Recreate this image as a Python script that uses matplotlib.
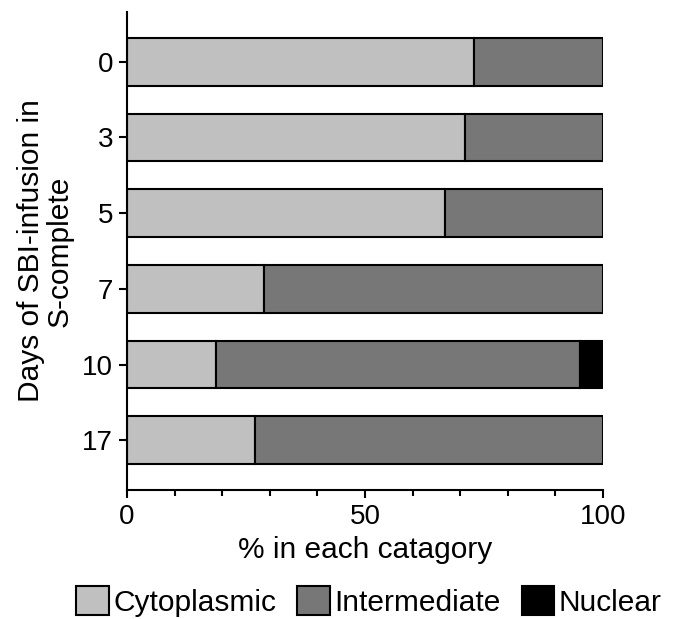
import numpy as np
import matplotlib.pyplot as plt

plt.rcParams["font.family"] = ["Liberation Sans", "DejaVu Sans"]

days = ["0", "3", "5", "7", "10", "17"]
cytoplasmic = [72.8, 70.9, 66.7, 28.8, 18.7, 26.9]
intermediate = [27.2, 29.1, 33.3, 71.2, 76.5, 73.1]
nuclear = [0, 0, 0, 0, 4.8, 0]

fig = plt.figure(figsize=(6.83, 6.19), dpi=100)
ax = fig.add_axes([0.186, 0.208, 0.697, 0.773])

y = np.arange(len(days))
h = 0.63
kw = dict(height=h, edgecolor="black", linewidth=1.5)
ax.barh(y, cytoplasmic, color="#c0c0c0", label="Cytoplasmic", **kw)
ax.barh(y, intermediate, left=cytoplasmic, color="#777777", label="Intermediate", **kw)
left2 = np.array(cytoplasmic) + np.array(intermediate)
nuc_mask = np.array(nuclear) > 0
ax.barh(y[nuc_mask], np.array(nuclear)[nuc_mask], left=left2[nuc_mask],
        color="black", label="Nuclear", **kw)

ax.set_xlim(0, 100)
ax.set_ylim(5.66, -0.66)
ax.set_yticks(y)
ax.set_yticklabels(days)
ax.set_xticks([0, 50, 100])
ax.set_xticks(np.arange(0, 101, 10), minor=True)

for s in ["top", "right"]:
    ax.spines[s].set_visible(False)
for s in ["left", "bottom"]:
    ax.spines[s].set_linewidth(1.5)
ax.tick_params(axis="both", which="major", labelsize=20, width=1.5, length=6, pad=4)
ax.tick_params(axis="x", which="minor", width=1.5, length=4)

ax.set_xlabel("% in each catagory", fontsize=21.5, labelpad=4)
ax.set_ylabel("Days of SBI-infusion in\nS-complete", fontsize=21.5, labelpad=6,
              linespacing=1.05)

handles, labels = ax.get_legend_handles_labels()
fig.legend(handles, labels, loc="lower center", bbox_to_anchor=(0.54, -0.04), ncol=3,
           frameon=False, fontsize=21.5, handlelength=1.1, handleheight=1.1,
           handletextpad=0.15, columnspacing=0.7)

fig.savefig("out.png", dpi=100)
